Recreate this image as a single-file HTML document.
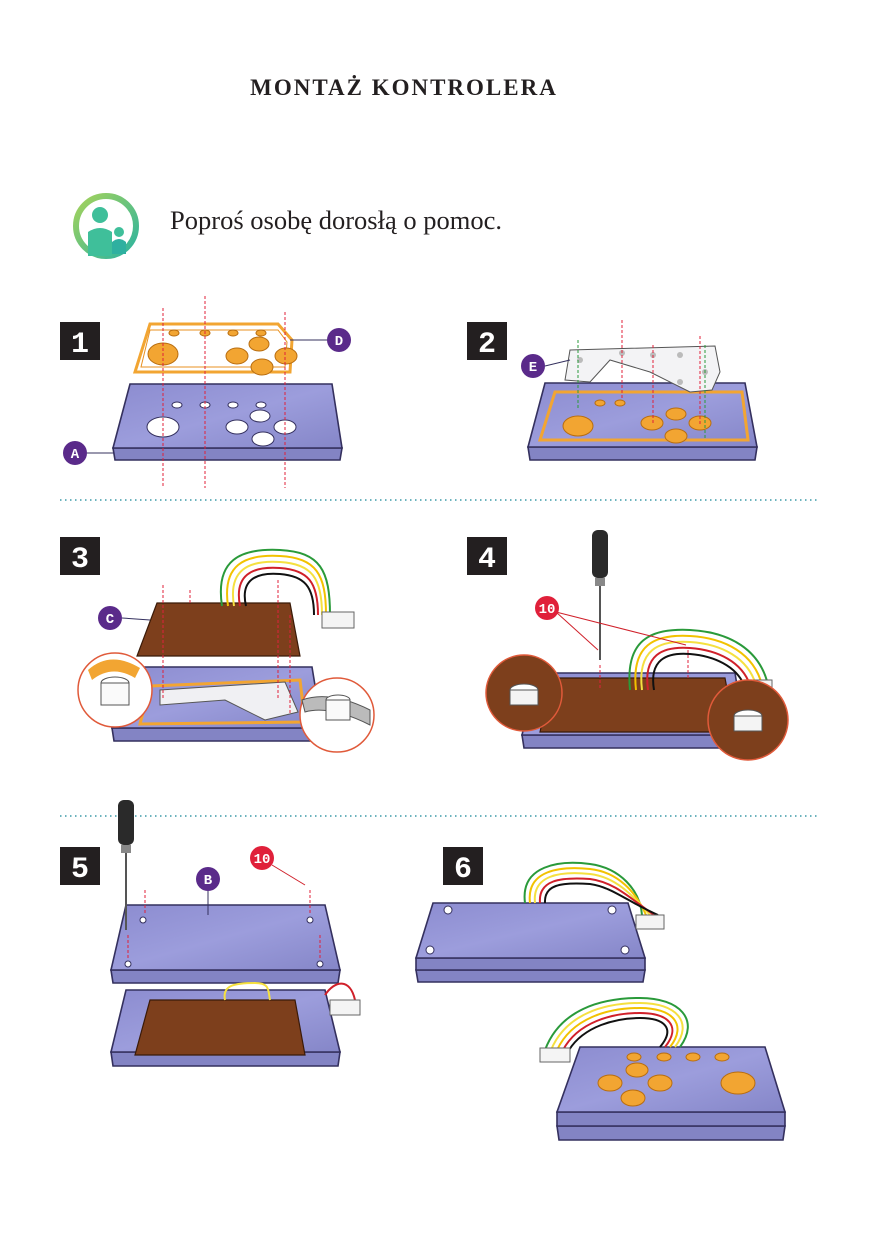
<!DOCTYPE html>
<html><head><meta charset="utf-8"><style>
html,body{margin:0;padding:0;background:#fff;}
svg{display:block}
text{font-family:"Liberation Serif",serif}
</style></head><body>
<svg width="874" height="1240" viewBox="0 0 874 1240" xmlns="http://www.w3.org/2000/svg">
<defs>
<linearGradient id="pur" x1="0" y1="0" x2="1" y2="1"><stop offset="0" stop-color="#8c8cd0"/><stop offset="0.5" stop-color="#9c9ddc"/><stop offset="1" stop-color="#8586c8"/></linearGradient>
<linearGradient id="ring" x1="0" y1="0" x2="1" y2="1"><stop offset="0" stop-color="#a6d35a"/><stop offset="1" stop-color="#2bb3a0"/></linearGradient>
</defs>
<style>
.case{fill:url(#pur);stroke:#34305e;stroke-width:1.6}
.band{fill:#8384c4;stroke:#34305e;stroke-width:1.6}
.hole{fill:#fff;stroke:#34305e;stroke-width:1}
.pcb{fill:#7d3f1c;stroke:#3a1a08;stroke-width:1.2}
.org{fill:#f2a532;stroke:#b86d10;stroke-width:1}
.dash{stroke:#e0203a;stroke-width:1;stroke-dasharray:3 2;fill:none}
.lbl{fill:#5a2a8a}
.lbltx{fill:#fff;font-family:"Liberation Mono",monospace;font-weight:bold;font-size:14px}
.num{fill:#231f20}
.numtx{fill:#fff;font-family:"Liberation Mono",monospace;font-weight:bold;font-size:30px}
.dots{stroke:#3a9aa8;stroke-width:1.6;stroke-dasharray:1.5 3.5}
.circ{fill:#fff;stroke:#e05a3a;stroke-width:1.5}
</style>

<text x="404" y="95" text-anchor="middle" font-size="23" font-weight="bold" letter-spacing="2" fill="#231f20">MONTAŻ KONTROLERA</text>

<circle cx="106" cy="226" r="30" fill="none" stroke="url(#ring)" stroke-width="6"/>
<circle cx="106" cy="226" r="26" fill="#fff"/>
<circle cx="100" cy="215" r="8" fill="#3fbf9a"/>
<path d="M88,256 L88,232 Q100,224 112,232 L112,256z" fill="#3fbf9a"/>
<circle cx="119" cy="232" r="5" fill="#3fbf9a"/>
<path d="M112,254 L112,242 Q119,236 126,242 L126,254z" fill="#2fb0a0"/>
<text x="170" y="229" font-size="26.5" fill="#231f20">Poproś osobę dorosłą o pomoc.</text>

<line x1="60" y1="500" x2="818" y2="500" class="dots"/>
<line x1="60" y1="816" x2="818" y2="816" class="dots"/>

<rect x="60" y="322" width="40" height="38" class="num"/><text x="80" y="352" text-anchor="middle" class="numtx">1</text>
<rect x="467" y="322" width="40" height="38" class="num"/><text x="487" y="352" text-anchor="middle" class="numtx">2</text>
<rect x="60" y="537" width="40" height="38" class="num"/><text x="80" y="567" text-anchor="middle" class="numtx">3</text>
<rect x="467" y="537" width="40" height="38" class="num"/><text x="487" y="567" text-anchor="middle" class="numtx">4</text>
<rect x="60" y="847" width="40" height="38" class="num"/><text x="80" y="877" text-anchor="middle" class="numtx">5</text>
<rect x="443" y="847" width="40" height="38" class="num"/><text x="463" y="877" text-anchor="middle" class="numtx">6</text>

<!-- STEP 1 -->
<path d="M113,448 L342,448 L340,460 L115,460z" class="band"/>
<path d="M130,384 L332,384 L342,448 L113,448z" class="case"/>
<ellipse cx="163" cy="427" rx="16" ry="10" class="hole"/>
<ellipse cx="177" cy="405" rx="5" ry="3" class="hole"/><ellipse cx="205" cy="405" rx="5" ry="3" class="hole"/>
<ellipse cx="233" cy="405" rx="5" ry="3" class="hole"/><ellipse cx="261" cy="405" rx="5" ry="3" class="hole"/>
<ellipse cx="260" cy="416" rx="10" ry="6" class="hole"/><ellipse cx="237" cy="427" rx="11" ry="7" class="hole"/>
<ellipse cx="285" cy="427" rx="11" ry="7" class="hole"/><ellipse cx="263" cy="439" rx="11" ry="7" class="hole"/>
<path d="M150,324 L278,324 L292,340 L290,372 L135,372z" fill="none" stroke="#f2a532" stroke-width="3"/>
<path d="M150,330 L278,330 L287,342 L285,367 L141,367z" fill="none" stroke="#e89020" stroke-width="1"/>
<ellipse cx="163" cy="354" rx="15" ry="11" class="org"/><ellipse cx="174" cy="333" rx="5" ry="3" class="org"/>
<ellipse cx="205" cy="333" rx="5" ry="3" class="org"/><ellipse cx="233" cy="333" rx="5" ry="3" class="org"/>
<ellipse cx="261" cy="333" rx="5" ry="3" class="org"/><ellipse cx="259" cy="344" rx="10" ry="7" class="org"/>
<ellipse cx="237" cy="356" rx="11" ry="8" class="org"/><ellipse cx="286" cy="356" rx="11" ry="8" class="org"/>
<ellipse cx="262" cy="367" rx="11" ry="8" class="org"/>
<line x1="163" y1="308" x2="163" y2="488" class="dash"/>
<line x1="205" y1="296" x2="205" y2="488" class="dash"/>
<line x1="285" y1="312" x2="285" y2="488" class="dash"/>
<line x1="290" y1="340" x2="328" y2="340" stroke="#34305e"/>
<circle cx="339" cy="340" r="12" class="lbl"/><text x="339" y="345" text-anchor="middle" class="lbltx">D</text>
<line x1="87" y1="453" x2="114" y2="453" stroke="#34305e"/>
<circle cx="75" cy="453" r="12" class="lbl"/><text x="75" y="458" text-anchor="middle" class="lbltx">A</text>

<!-- STEP 2 -->
<path d="M528,447 L757,447 L755,460 L530,460z" class="band"/>
<path d="M545,383 L745,383 L757,447 L528,447z" class="case"/>
<path d="M555,392 L742,392 L748,440 L540,440z" fill="none" stroke="#f2a532" stroke-width="3"/>
<ellipse cx="578" cy="426" rx="15" ry="10" class="org"/>
<ellipse cx="600" cy="403" rx="5" ry="3" class="org"/><ellipse cx="620" cy="403" rx="5" ry="3" class="org"/>
<ellipse cx="652" cy="423" rx="11" ry="7" class="org"/><ellipse cx="676" cy="414" rx="10" ry="6" class="org"/>
<ellipse cx="700" cy="423" rx="11" ry="7" class="org"/><ellipse cx="676" cy="436" rx="11" ry="7" class="org"/>
<path d="M570,350 L715,346 L720,372 L712,390 L690,392 L650,372 L610,360 L590,382 L565,380z" fill="#f3f3f5" stroke="#555" stroke-width="1"/>
<circle cx="580" cy="360" r="3" fill="#bbb"/><circle cx="622" cy="353" r="3" fill="#bbb"/><circle cx="653" cy="355" r="3" fill="#bbb"/><circle cx="680" cy="355" r="3" fill="#bbb"/><circle cx="705" cy="372" r="3" fill="#bbb"/><circle cx="680" cy="382" r="3" fill="#bbb"/>
<line x1="578" y1="340" x2="578" y2="410" stroke="#2a9a3a" stroke-dasharray="3 2"/>
<line x1="622" y1="320" x2="622" y2="400" class="dash"/>
<line x1="653" y1="345" x2="653" y2="425" class="dash"/>
<line x1="700" y1="336" x2="700" y2="425" class="dash"/>
<line x1="705" y1="345" x2="705" y2="440" stroke="#2a9a3a" stroke-dasharray="3 2"/>
<line x1="545" y1="366" x2="570" y2="360" stroke="#34305e"/>
<circle cx="533" cy="366" r="12" class="lbl"/><text x="533" y="371" text-anchor="middle" class="lbltx">E</text>

<!-- STEP 3 -->
<path d="M112,728 L322,728 L320,741 L114,741z" class="band"/>
<path d="M127,667 L312,667 L322,728 L112,728z" class="case"/>
<path d="M150,686 L300,680 L305,722 L140,724z" fill="none" stroke="#f2a532" stroke-width="3"/>
<path d="M160,690 L285,682 L298,712 L265,720 L225,700 L160,705z" fill="#f0f0f3" stroke="#555"/>
<path d="M157,603 L290,603 L300,656 L137,656z" class="pcb"/>
<path d="M222,606 C215,560 240,548 280,550 C320,552 330,570 330,615" fill="none" stroke="#2a9a3a" stroke-width="2"/>
<path d="M228,606 C222,565 244,554 280,556 C316,558 326,574 326,615" fill="none" stroke="#f2c200" stroke-width="2"/>
<path d="M234,606 C228,570 248,560 280,562 C312,564 322,578 322,615" fill="none" stroke="#f5e040" stroke-width="2"/>
<path d="M240,606 C234,575 252,566 280,568 C308,570 318,582 318,615" fill="none" stroke="#d0202a" stroke-width="2"/>
<path d="M246,606 C240,580 256,572 280,574 C304,576 314,586 314,615" fill="none" stroke="#111" stroke-width="2"/>
<rect x="322" y="612" width="32" height="16" fill="#f4f4f4" stroke="#666"/>
<line x1="163" y1="585" x2="163" y2="700" class="dash"/><line x1="190" y1="590" x2="190" y2="605" class="dash"/>
<line x1="278" y1="580" x2="278" y2="700" class="dash"/><line x1="290" y1="615" x2="290" y2="715" class="dash"/>
<line x1="122" y1="618" x2="150" y2="620" stroke="#34305e"/>
<circle cx="110" cy="618" r="12" class="lbl"/><text x="110" y="623" text-anchor="middle" class="lbltx">C</text>
<circle cx="115" cy="690" r="37" class="circ"/>
<path d="M88,670 Q110,650 140,668 L135,678 Q112,664 92,680z" fill="#f2a532"/>
<ellipse cx="115" cy="683" rx="14" ry="6" fill="#fff" stroke="#555"/><rect x="101" y="683" width="28" height="22" fill="#fafafa" stroke="#555"/>
<circle cx="337" cy="715" r="37" class="circ"/>
<path d="M302,700 Q330,690 370,710 L370,725 Q330,705 305,712z" fill="#bbb" stroke="#555"/>
<ellipse cx="338" cy="700" rx="12" ry="5" fill="#fff" stroke="#555"/><rect x="326" y="700" width="24" height="20" fill="#fafafa" stroke="#555"/>

<!-- STEP 4 -->
<path d="M522,735 L745,735 L743,748 L524,748z" class="band"/>
<path d="M537,673 L735,673 L745,735 L522,735z" class="case"/>
<path d="M552,678 L725,678 L735,732 L540,732z" class="pcb"/>
<path d="M630,690 C625,640 650,628 690,630 C730,632 760,650 768,685" fill="none" stroke="#2a9a3a" stroke-width="2"/>
<path d="M636,690 C631,645 654,634 690,636 C726,638 754,654 762,685" fill="none" stroke="#f2c200" stroke-width="2"/>
<path d="M642,690 C637,650 658,640 690,642 C722,644 748,658 756,685" fill="none" stroke="#f5e040" stroke-width="2"/>
<path d="M648,690 C643,655 662,646 690,648 C718,650 742,662 750,685" fill="none" stroke="#d0202a" stroke-width="2"/>
<path d="M654,690 C649,660 666,652 690,654 C714,656 736,666 744,685" fill="none" stroke="#111" stroke-width="2"/>
<rect x="744" y="680" width="28" height="14" fill="#f4f4f4" stroke="#666"/>
<rect x="592" y="530" width="16" height="48" rx="6" fill="#2a2a2a"/><rect x="595" y="578" width="10" height="8" fill="#888"/>
<line x1="600" y1="586" x2="600" y2="660" stroke="#555" stroke-width="2"/>
<line x1="600" y1="665" x2="600" y2="690" class="dash"/><line x1="688" y1="650" x2="688" y2="680" class="dash"/>
<line x1="556" y1="612" x2="598" y2="650" stroke="#d0202a"/><line x1="556" y1="612" x2="686" y2="645" stroke="#d0202a"/>
<circle cx="547" cy="608" r="12" fill="#e0203a"/><text x="547" y="613" text-anchor="middle" class="lbltx" font-size="12">10</text>
<circle cx="524" cy="693" r="38" fill="#7d3f1c" stroke="#e05a3a" stroke-width="1.5"/>
<ellipse cx="524" cy="690" rx="14" ry="6" fill="#fff" stroke="#555"/><rect x="510" y="690" width="28" height="15" fill="#f4f4f4" stroke="#555"/>
<circle cx="748" cy="720" r="40" fill="#7d3f1c" stroke="#e05a3a" stroke-width="1.5"/>
<ellipse cx="748" cy="716" rx="14" ry="6" fill="#fff" stroke="#555"/><rect x="734" y="716" width="28" height="15" fill="#f4f4f4" stroke="#555"/>

<!-- STEP 5 -->
<path d="M111,970 L340,970 L338,983 L113,983z" class="band"/>
<path d="M126,905 L325,905 L340,970 L111,970z" class="case"/>
<circle cx="128" cy="964" r="3" class="hole"/><circle cx="320" cy="964" r="3" class="hole"/><circle cx="143" cy="920" r="3" class="hole"/><circle cx="310" cy="920" r="3" class="hole"/>
<path d="M111,1052 L340,1052 L338,1066 L113,1066z" class="band"/>
<path d="M126,990 L325,990 L340,1052 L111,1052z" class="case"/>
<path d="M150,1000 L295,1000 L305,1055 L135,1055z" class="pcb"/>
<path d="M225,1000 C222,985 235,983 255,983 C270,983 268,990 270,1000" fill="none" stroke="#f5e040" stroke-width="2"/>
<path d="M325,995 C335,980 350,978 355,1000" fill="none" stroke="#d0202a" stroke-width="2"/>
<rect x="330" y="1000" width="30" height="15" fill="#f4f4f4" stroke="#666"/>
<rect x="118" y="800" width="16" height="45" rx="6" fill="#2a2a2a"/><rect x="121" y="845" width="10" height="8" fill="#888"/>
<line x1="126" y1="853" x2="126" y2="930" stroke="#555" stroke-width="2"/>
<line x1="128" y1="935" x2="128" y2="960" class="dash"/><line x1="145" y1="890" x2="145" y2="915" class="dash"/>
<line x1="310" y1="890" x2="310" y2="915" class="dash"/><line x1="320" y1="935" x2="320" y2="960" class="dash"/>
<line x1="208" y1="891" x2="208" y2="915" stroke="#34305e"/>
<circle cx="208" cy="879" r="12" class="lbl"/><text x="208" y="884" text-anchor="middle" class="lbltx">B</text>
<line x1="272" y1="865" x2="305" y2="885" stroke="#d0202a"/>
<circle cx="262" cy="858" r="12" fill="#e0203a"/><text x="262" y="863" text-anchor="middle" class="lbltx" font-size="12">10</text>

<!-- STEP 6 -->
<path d="M416,970 L645,970 L643,982 L418,982z" class="band"/>
<path d="M416,958 L645,958 L645,970 L416,970z" class="band"/>
<path d="M433,903 L628,903 L645,958 L416,958z" class="case"/>
<circle cx="448" cy="910" r="4" class="hole"/><circle cx="612" cy="910" r="4" class="hole"/><circle cx="430" cy="950" r="4" class="hole"/><circle cx="625" cy="950" r="4" class="hole"/>
<path d="M525,903 C520,865 560,860 590,864 C620,868 640,890 642,915" fill="none" stroke="#2a9a3a" stroke-width="2"/>
<path d="M530,903 C526,870 560,866 590,869 C618,872 636,892 646,915" fill="none" stroke="#f2c200" stroke-width="2"/>
<path d="M535,903 C532,875 560,871 590,874 C616,877 632,895 650,915" fill="none" stroke="#f5e040" stroke-width="2"/>
<path d="M540,903 C538,880 560,877 590,879 C614,882 630,898 654,915" fill="none" stroke="#d0202a" stroke-width="2"/>
<path d="M545,903 C544,885 560,882 590,884 C612,887 628,902 658,915" fill="none" stroke="#111" stroke-width="2"/>
<rect x="636" y="915" width="28" height="14" fill="#f4f4f4" stroke="#666"/>
<path d="M557,1126 L785,1126 L783,1140 L559,1140z" class="band"/>
<path d="M557,1112 L785,1112 L785,1126 L557,1126z" class="band"/>
<path d="M580,1047 L765,1047 L785,1112 L557,1112z" class="case"/>
<path d="M680,1047 C700,1020 680,998 640,998 C600,998 560,1010 545,1050" fill="none" stroke="#2a9a3a" stroke-width="2"/>
<path d="M675,1047 C694,1022 676,1003 640,1003 C604,1003 566,1014 551,1050" fill="none" stroke="#f5e040" stroke-width="2"/>
<path d="M670,1047 C688,1024 672,1008 640,1008 C608,1008 572,1018 557,1050" fill="none" stroke="#f2c200" stroke-width="2"/>
<path d="M665,1047 C682,1026 668,1013 640,1013 C612,1013 578,1022 563,1050" fill="none" stroke="#d0202a" stroke-width="2"/>
<path d="M660,1047 C676,1028 664,1018 640,1018 C616,1018 584,1026 569,1050" fill="none" stroke="#111" stroke-width="2"/>
<rect x="540" y="1048" width="30" height="14" fill="#f4f4f4" stroke="#666"/>
<ellipse cx="634" cy="1057" rx="7" ry="4" class="org"/><ellipse cx="664" cy="1057" rx="7" ry="4" class="org"/>
<ellipse cx="693" cy="1057" rx="7" ry="4" class="org"/><ellipse cx="722" cy="1057" rx="7" ry="4" class="org"/>
<ellipse cx="637" cy="1070" rx="11" ry="7" class="org"/><ellipse cx="610" cy="1083" rx="12" ry="8" class="org"/>
<ellipse cx="660" cy="1083" rx="12" ry="8" class="org"/><ellipse cx="633" cy="1098" rx="12" ry="8" class="org"/>
<ellipse cx="738" cy="1083" rx="17" ry="11" class="org"/>
</svg>
</body></html>
